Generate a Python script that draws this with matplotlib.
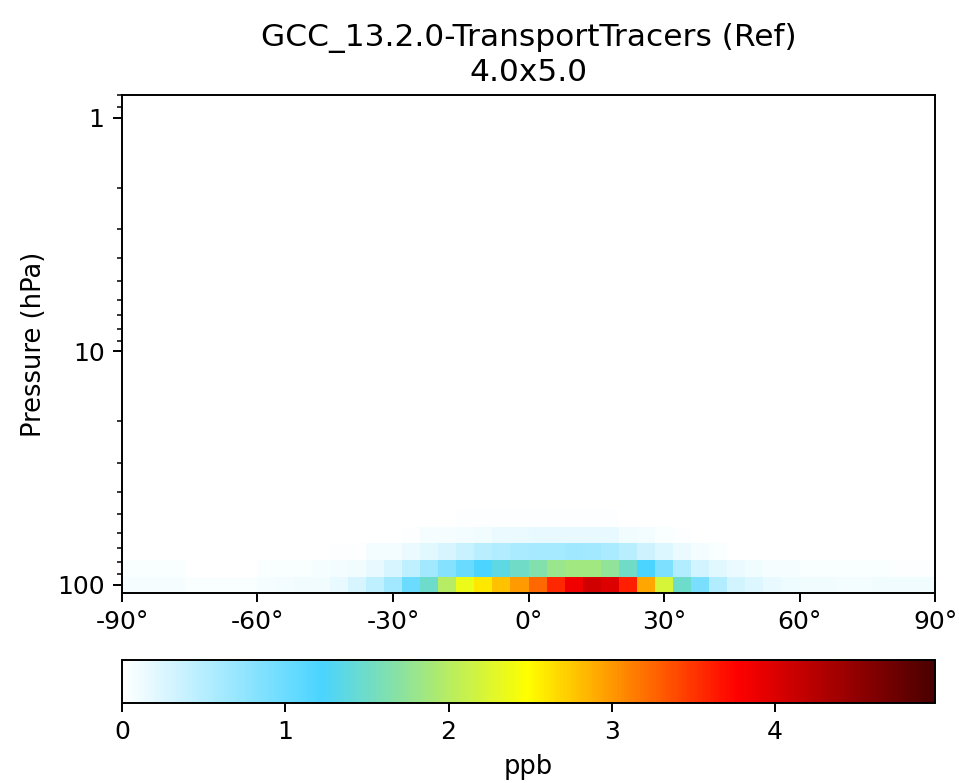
import numpy as np
import matplotlib
matplotlib.use("Agg")
import matplotlib.pyplot as plt
from matplotlib.colors import LinearSegmentedColormap
from matplotlib.ticker import FixedLocator, FixedFormatter

# latitude edges of the 4x5 grid (half-size polar boxes)
lat_edges = [-90] + list(range(-88, 89, 4)) + [90]

# pressure edges (hPa), 72-level grid, from ~108 hPa upward
p_edges = [108.663, 92.3657, 78.5123, 66.6034, 56.3879, 47.6435, 40.1756,
           33.8100, 28.3676, 23.7342, 19.7916, 16.4387, 13.5935, 11.1829,
           9.14943, 7.44245, 6.01749, 4.83571, 3.86101, 3.06305, 2.41353,
           1.88855, 1.46772, 1.13331, 0.869504, 0.664107]

# zonal mean (ppb), one list per level, 46 latitude bands south -> north
row0 = [0.07, 0.07, 0.07, 0.07, 0.05, 0.05, 0.05, 0.05, 0.07, 0.09, 0.10,
        0.115, 0.175, 0.28, 0.43, 0.64, 1.00, 1.48, 1.99, 2.37, 2.60, 2.79,
        2.99, 3.23, 3.57, 3.86, 4.08, 3.99, 3.61, 2.92, 2.20, 1.48, 0.90,
        0.53, 0.32, 0.24, 0.17, 0.12, 0.10, 0.10, 0.08, 0.08, 0.10, 0.10,
        0.10, 0.10]
row1 = [0.05, 0.05, 0.05, 0.05, 0.015, 0.015, 0.015, 0.015, 0.04, 0.04, 0.04,
        0.07, 0.09, 0.115, 0.175, 0.28, 0.44, 0.64, 0.82, 1.02, 1.21, 1.38,
        1.50, 1.65, 1.79, 1.85, 1.86, 1.74, 1.50, 1.21, 0.88, 0.53, 0.32,
        0.20, 0.14, 0.10, 0.07, 0.07, 0.05, 0.05, 0.05, 0.05, 0.05, 0.025,
        0.025, 0.025]
row2 = [0.0, 0.0, 0.0, 0.0, 0.0, 0.0, 0.0, 0.0, 0.0, 0.0, 0.0,
        0.0, 0.027, 0.027, 0.08, 0.08, 0.14, 0.21, 0.28, 0.37, 0.47, 0.53,
        0.57, 0.62, 0.62, 0.65, 0.64, 0.57, 0.47, 0.34, 0.24, 0.15, 0.09,
        0.05, 0.01, 0.01, 0.01, 0.0, 0.0, 0.0, 0.0, 0.0, 0.0, 0.0,
        0.0, 0.0]
row3 = [0.0, 0.0, 0.0, 0.0, 0.0, 0.0, 0.0, 0.0, 0.0, 0.0, 0.0,
        0.0, 0.0, 0.0, 0.0, 0.01, 0.03, 0.07, 0.07, 0.09, 0.115, 0.15,
        0.15, 0.17, 0.17, 0.17, 0.17, 0.17, 0.115, 0.08, 0.05, 0.03, 0.01,
        0.0, 0.0, 0.0, 0.0, 0.0, 0.0, 0.0, 0.0, 0.0, 0.0, 0.0,
        0.0, 0.0]
row4 = [0.0, 0.0, 0.0, 0.0, 0.0, 0.0, 0.0, 0.0, 0.0, 0.0, 0.0,
        0.0, 0.0, 0.0, 0.0, 0.0, 0.0, 0.0, 0.01, 0.025, 0.025, 0.025,
        0.03, 0.03, 0.03, 0.03, 0.03, 0.03, 0.015, 0.015, 0.0, 0.0, 0.0,
        0.0, 0.0, 0.0, 0.0, 0.0, 0.0, 0.0, 0.0, 0.0, 0.0, 0.0,
        0.0, 0.0]

vmin, vmax = 0.0, 4.98

# white-blue-green-yellow-red colormap
cmap_vals = [0.0, 1.22, 1.70, 2.48, 3.77, 4.98]
cmap_cols = ["#ffffff", "#4ad4ff", "#8ae2a0", "#ffff00", "#ff0000", "#4a0000"]
cmap = LinearSegmentedColormap.from_list(
    "WhBlGrYlRd", [(v / vmax, c) for v, c in zip(cmap_vals, cmap_cols)])

nlev = len(p_edges) - 1
data = np.zeros((nlev, len(lat_edges) - 1))
for i, r in enumerate([row0, row1, row2, row3, row4]):
    data[i] = r

fig = plt.figure(figsize=(9.59, 7.83), dpi=100)
ax = fig.add_axes([0.1272, 0.2427, 0.8478, 0.636])
mesh = ax.pcolormesh(lat_edges, p_edges, data, cmap=cmap, vmin=vmin, vmax=vmax)
ax.set_yscale("log")
ax.set_ylim(108.663, 0.797)
ax.set_xlim(-90, 90)
ax.yaxis.set_major_locator(FixedLocator([1, 10, 100]))
ax.yaxis.set_major_formatter(FixedFormatter(["1", "10", "100"]))
xt = [-90, -60, -30, 0, 30, 60, 90]
ax.set_xticks(xt)
ax.set_xticklabels([f"{t}°" for t in xt])
ax.tick_params(which="major", labelsize=18, length=6.5, width=1.4, pad=6)
ax.tick_params(which="minor", length=3.7, width=1.1)
for s in ax.spines.values():
    s.set_linewidth(1.4)
ax.set_ylabel("Pressure (hPa)", fontsize=18.5, labelpad=7)
ax.set_title("GCC_13.2.0-TransportTracers (Ref)\n4.0x5.0", fontsize=22.5, pad=10)

cax = fig.add_axes([0.1272, 0.1022, 0.8478, 0.0549])
cb = fig.colorbar(mesh, cax=cax, orientation="horizontal")
cb.set_ticks([0, 1, 2, 3, 4])
cb.ax.tick_params(labelsize=18, length=6.5, width=1.4, pad=6)
cb.outline.set_linewidth(1.4)
cb.set_label("ppb", fontsize=18.5, labelpad=7)

fig.savefig("out.png", dpi=100)
